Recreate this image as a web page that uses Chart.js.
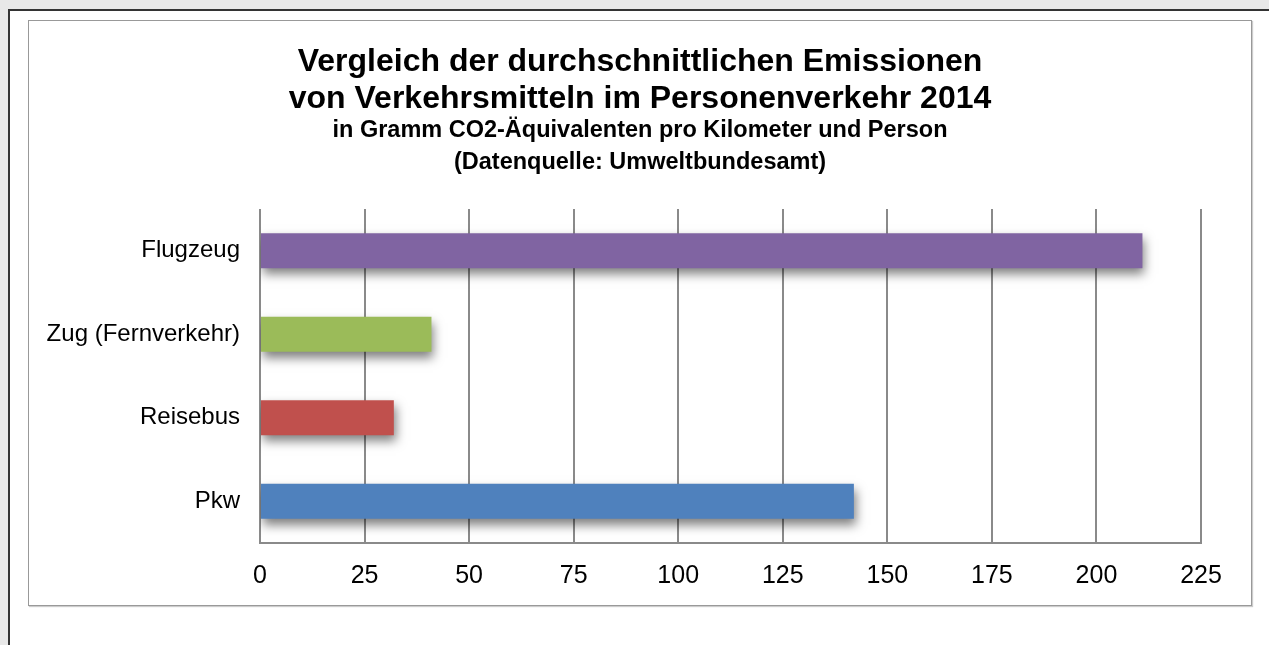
<!DOCTYPE html>
<html>
<head>
<meta charset="utf-8">
<script src="https://cdn.jsdelivr.net/npm/chart.js@4"></script>
<style>
  html, body { margin: 0; padding: 0; background: #e8e8e8; width: 1269px; height: 645px; overflow: hidden; }
  #frame { position: absolute; left: 8px; top: 9px; width: 1300px; height: 700px; background: #fff;
           border-top: 2px solid #333; border-left: 2px solid #333; }
  #box { position: absolute; left: 28px; top: 20px; width: 1222px; height: 584px;
         border: 1px solid #999; background: #fff; box-shadow: 1px 1px 1px #ccc; }
  canvas { display: block; }
</style>
</head>
<body>
<div id="frame"></div>
<div id="box"><canvas id="c" width="1222" height="584"></canvas></div>
<script>
const categories = ["Flugzeug", "Zug (Fernverkehr)", "Reisebus", "Pkw"];
const emissions = [211, 41, 32, 142];
const barColors = ["#8064a2", "#9bbb59", "#c0504d", "#4f81bd"];
const titleLines = ["Vergleich der durchschnittlichen Emissionen", "von Verkehrsmitteln im Personenverkehr 2014"];
const subtitleLines = ["in Gramm CO2-Äquivalenten pro Kilometer und Person", "(Datenquelle: Umweltbundesamt)"];

const FONT = "'Liberation Sans', Arial, sans-serif";

// soft drop shadow under the bars
const barShadow = {
  id: "barShadow",
  beforeDatasetsDraw(chart) {
    const ctx = chart.ctx;
    ctx.save();
    ctx.shadowColor = "rgba(0,0,0,0.5)";
    ctx.shadowBlur = 10;
    ctx.shadowOffsetX = 2;
    ctx.shadowOffsetY = 6;
  },
  afterDatasetsDraw(chart) {
    chart.ctx.restore();
  }
};

new Chart(document.getElementById("c"), {
  type: "bar",
  data: {
    labels: categories,
    datasets: [{
      data: emissions,
      backgroundColor: barColors,
      borderWidth: 0,
      barPercentage: 0.42,
      categoryPercentage: 1
    }]
  },
  options: {
    indexAxis: "y",
    responsive: false,
    animation: false,
    layout: { padding: 0 },
    plugins: {
      legend: { display: false },
      tooltip: { enabled: false },
      title: {
        display: true,
        text: titleLines,
        color: "#000",
        font: { family: FONT, size: 32, weight: "bold", lineHeight: 1.156 },
        padding: { top: 23, bottom: 0 }
      },
      subtitle: {
        display: true,
        text: subtitleLines,
        color: "#000",
        font: { family: FONT, size: 23.5, weight: "bold", lineHeight: 1.36 },
        padding: { top: -3, bottom: 30 }
      }
    },
    scales: {
      x: {
        min: 0,
        max: 225,
        ticks: {
          stepSize: 25,
          color: "#000",
          padding: 18,
          font: { family: FONT, size: 25 }
        },
        grid: { color: "#8a8a8a", lineWidth: 2, drawTicks: false },
        border: { display: true, color: "#8a8a8a", width: 2 },
        afterFit(scale) { scale.height = 62; }
      },
      y: {
        ticks: {
          color: "#000",
          padding: 20,
          font: { family: FONT, size: 24 }
        },
        grid: { display: false, drawTicks: false },
        border: { display: false },
        afterFit(scale) { scale.width = 231; }
      },
      // empty right-hand axis only reserves the margin right of the plot
      spacer: {
        type: "linear",
        position: "right",
        display: true,
        grid: { display: false, drawTicks: false },
        border: { display: false },
        ticks: { display: false },
        afterFit(scale) { scale.width = 50; }
      }
    }
  },
  plugins: [barShadow]
});
</script>
</body>
</html>
